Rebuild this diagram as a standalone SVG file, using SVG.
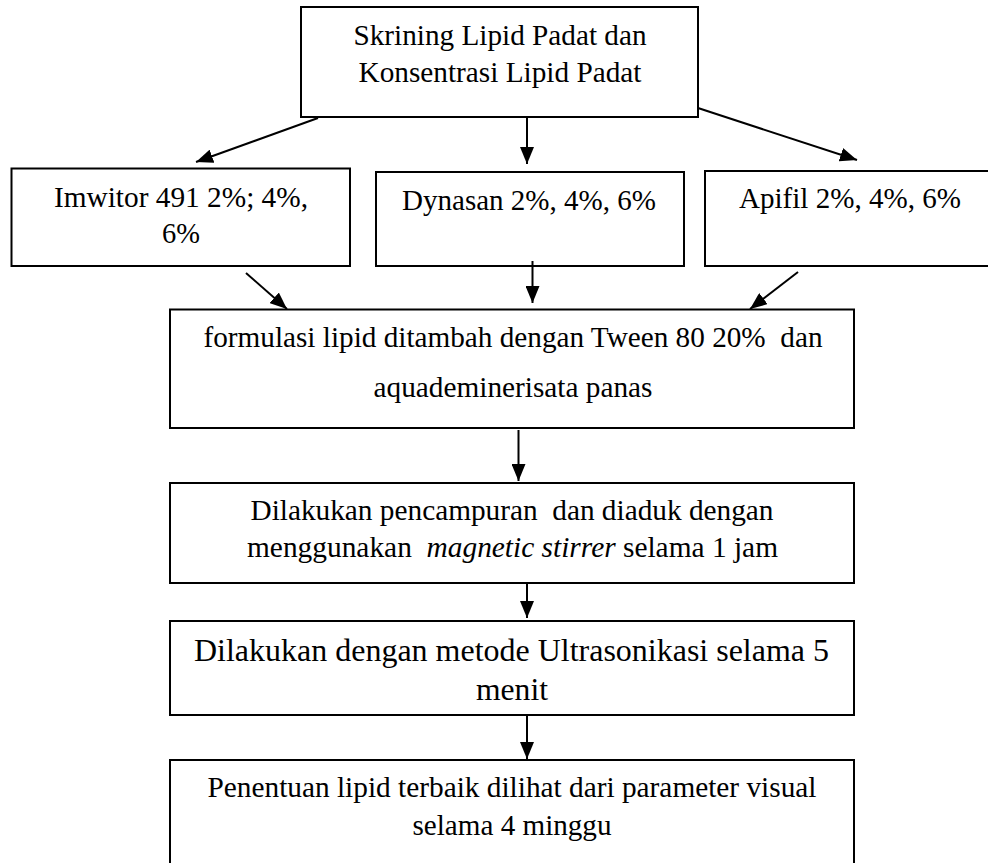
<svg xmlns="http://www.w3.org/2000/svg" width="988" height="863" viewBox="0 0 988 863">
<style>
.box{fill:#fff;stroke:#000;stroke-width:2}
.t{font-family:"Liberation Serif","Times New Roman",Times,"Nimbus Roman","DejaVu Serif",serif;font-size:29.3px;fill:#000;text-anchor:middle}
.big{font-size:32px}
.c{stroke:#000;stroke-width:2;fill:none;marker-end:url(#ah)}
</style>
<defs>
<marker id="ah" markerUnits="userSpaceOnUse" markerWidth="18" markerHeight="14" refX="17" refY="7" orient="auto">
<path d="M0,0 L17,7 L0,14 Z" fill="#000"/>
</marker>
</defs>
<rect width="988" height="863" fill="#fff"/>
<g id="n1">
<rect class="box" x="301" y="7" width="397" height="110"/>
<text class="t" x="500" y="45" textLength="293" lengthAdjust="spacingAndGlyphs">Skrining Lipid Padat dan</text>
<text class="t" x="500" y="82" textLength="283" lengthAdjust="spacingAndGlyphs">Konsentrasi Lipid Padat</text>
</g>
<g id="n2">
<rect class="box" x="11.5" y="168.5" width="338.5" height="97.5"/>
<text class="t" x="181" y="207" textLength="254" lengthAdjust="spacingAndGlyphs">Imwitor 491 2%; 4%,</text>
<text class="t" x="181" y="243" textLength="38" lengthAdjust="spacingAndGlyphs">6%</text>
</g>
<g id="n3">
<rect class="box" x="376" y="172" width="308" height="94"/>
<text class="t" x="529" y="210" textLength="254" lengthAdjust="spacingAndGlyphs">Dynasan 2%, 4%, 6%</text>
</g>
<g id="n4">
<rect class="box" x="705" y="171" width="290" height="95"/>
<text class="t" x="850" y="208" textLength="222" lengthAdjust="spacingAndGlyphs">Apifil 2%, 4%, 6%</text>
</g>
<g id="n5">
<rect class="box" x="170" y="309.5" width="684" height="118.5"/>
<text class="t" x="513" y="347" xml:space="preserve" textLength="619" lengthAdjust="spacingAndGlyphs">formulasi lipid ditambah dengan Tween 80 20%  dan</text>
<text class="t" x="513" y="397" textLength="279" lengthAdjust="spacingAndGlyphs">aquademinerisata panas</text>
</g>
<g id="n6">
<rect class="box" x="170" y="483" width="684" height="100"/>
<text class="t" x="512" y="520" xml:space="preserve" textLength="523" lengthAdjust="spacingAndGlyphs">Dilakukan pencampuran  dan diaduk dengan</text>
<text class="t" x="512.5" y="557" xml:space="preserve" textLength="531" lengthAdjust="spacingAndGlyphs">menggunakan  <tspan font-style="italic">magnetic stirrer</tspan> selama 1 jam</text>
</g>
<g id="n7">
<rect class="box" x="170" y="621" width="684" height="94"/>
<text class="t big" x="511.5" y="661" textLength="635" lengthAdjust="spacingAndGlyphs">Dilakukan dengan metode Ultrasonikasi selama 5</text>
<text class="t big" x="512" y="700" textLength="72" lengthAdjust="spacingAndGlyphs">menit</text>
</g>
<g id="n8">
<rect class="box" x="170" y="760" width="684" height="120"/>
<text class="t" x="512" y="797" textLength="609" lengthAdjust="spacingAndGlyphs">Penentuan lipid terbaik dilihat dari parameter visual</text>
<text class="t" x="512" y="835" textLength="199" lengthAdjust="spacingAndGlyphs">selama 4 minggu</text>
</g>
<g id="connectors">
<line class="c" x1="318" y1="118" x2="196" y2="162"/>
<line class="c" x1="527" y1="118" x2="527" y2="164"/>
<line class="c" x1="698" y1="108" x2="857" y2="160"/>
<line class="c" x1="246" y1="273" x2="287" y2="309"/>
<line class="c" x1="532.5" y1="261" x2="532.5" y2="303"/>
<line class="c" x1="798" y1="272" x2="750" y2="309"/>
<line class="c" x1="518.5" y1="430" x2="518.5" y2="481"/>
<line class="c" x1="527" y1="583" x2="527" y2="618"/>
<line class="c" x1="527" y1="715" x2="527" y2="759"/>
</g>
</svg>
